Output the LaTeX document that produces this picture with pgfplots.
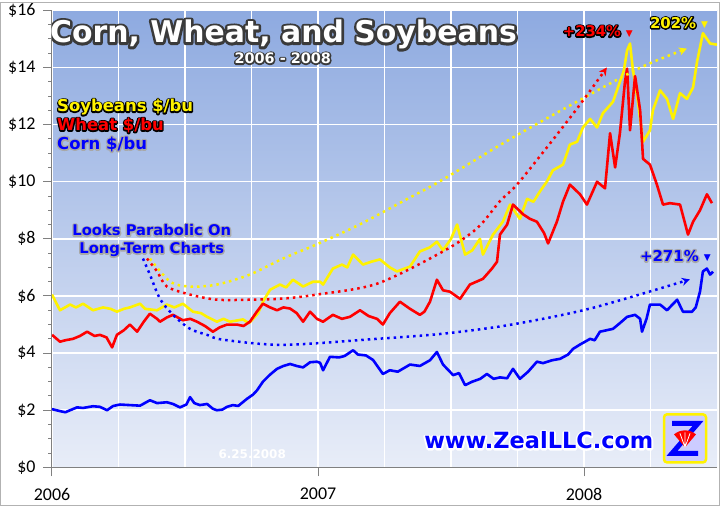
\documentclass[border=0pt]{standalone}
\usepackage{fontspec}
\setmainfont{DejaVu Sans}
\newfontfamily\tickfont{Carlito}
\usepackage{pgfplots}
\pgfplotsset{compat=1.18}
\usetikzlibrary{arrows.meta}
\definecolor{bgtop}{HTML}{8EAAE0}
\definecolor{bgbot}{HTML}{E8EDF8}
\definecolor{axgray}{HTML}{808080}
\definecolor{outl}{HTML}{3A3A3A}
\definecolor{glow}{HTML}{A8A8A8}
% outlined text: #1 stroke width (bp), #2 outline colour, #3 text
\newcommand{\outl}[3]{\leavevmode\rlap{\color{#2}\special{pdf:literal 2 Tr #1 w 1 j}#3\special{pdf:literal 0 Tr}}#3}
\newcommand{\tri}{{\fontsize{9}{9}\selectfont\raisebox{0.5bp}{▼}}}
\begin{document}
\begin{tikzpicture}
\begin{axis}[at={(0,0)}, anchor=south west, scale only axis, width=665bp, height=457bp,
 xmin=2006, xmax=2008.5, ymin=0, ymax=16,
 axis x line*=bottom, axis y line*=left, axis line style={axgray, line width=1bp},
 xtick={2006,2007,2008}, xticklabels={2006,2007,2008},
 minor xtick={2006.25,2006.5,2006.75,2007.25,2007.5,2007.75,2008.25},
 xmajorgrids, xminorgrids, ymajorgrids,
 ytick={0,2,...,16}, yticklabels={\$0,\$2,\$4,\$6,\$8,\$10,\$12,\$14,\$16},
 minor y tick num=3,
 grid style={white, line width=1.5bp},
 minor grid style={white, line width=1.5bp},
 tick align=outside, major tick length=9bp, minor tick length=4bp,
 tick style={axgray, line width=1bp},
 minor x tick style={draw=none},
 ticklabel style={font=\tickfont\fontsize{18}{18}\selectfont},
 /pgf/number format/assume math mode=true,
 yticklabel style={xshift=-4bp},
 xticklabel style={yshift=-8bp},
 axis background/.style={top color=bgtop, bottom color=bgbot},
]
% Soybeans
\addplot[yellow, line width=2.6bp, line join=round] coordinates {
(2006.000,6.05) (2006.030,5.50) (2006.068,5.70) (2006.090,5.60) (2006.117,5.73) (2006.154,5.50)
(2006.192,5.60) (2006.220,5.55) (2006.244,5.45) (2006.270,5.55) (2006.293,5.60) (2006.331,5.73)
(2006.350,5.55) (2006.395,5.50) (2006.432,5.70) (2006.460,5.60) (2006.492,5.73) (2006.530,5.45)
(2006.560,5.40) (2006.583,5.27) (2006.620,5.10) (2006.645,5.20) (2006.669,5.10) (2006.700,5.15)
(2006.718,5.18) (2006.740,5.05) (2006.756,5.20) (2006.775,5.40) (2006.793,5.80) (2006.820,6.22)
(2006.857,6.40) (2006.880,6.30) (2006.906,6.57) (2006.944,6.33) (2006.981,6.50) (2007.008,6.50)
(2007.019,6.40) (2007.056,6.96) (2007.090,7.10) (2007.110,7.00) (2007.132,7.45) (2007.169,7.10)
(2007.200,7.20) (2007.233,7.28) (2007.270,7.00) (2007.297,6.86) (2007.346,7.03) (2007.383,7.56)
(2007.420,7.70) (2007.447,7.90) (2007.470,7.60) (2007.500,8.00) (2007.523,8.50) (2007.553,7.45)
(2007.580,7.60) (2007.609,8.00) (2007.620,7.45) (2007.658,8.15) (2007.695,8.60) (2007.722,9.20)
(2007.759,8.70) (2007.786,9.40) (2007.810,9.30) (2007.835,9.67) (2007.860,10.00) (2007.883,10.40)
(2007.921,10.60) (2007.947,11.30) (2007.974,11.40) (2007.996,11.90) (2008.023,12.20) (2008.049,11.90)
(2008.071,12.40) (2008.109,12.80) (2008.135,13.50) (2008.150,13.90) (2008.162,14.60) (2008.173,14.84)
(2008.184,13.90) (2008.200,13.00) (2008.211,12.20) (2008.222,11.40) (2008.235,11.60) (2008.248,11.80)
(2008.259,12.50) (2008.286,13.20) (2008.312,12.90) (2008.335,12.20) (2008.361,13.10) (2008.387,12.90)
(2008.410,13.30) (2008.425,14.20) (2008.447,15.20) (2008.474,14.84) (2008.500,14.80)
};
% Wheat
\addplot[red, line width=2.6bp, line join=round] coordinates {
(2006.000,4.64) (2006.030,4.40) (2006.050,4.45) (2006.079,4.50) (2006.105,4.60) (2006.132,4.75)
(2006.160,4.60) (2006.180,4.64) (2006.205,4.55) (2006.226,4.20) (2006.244,4.64) (2006.270,4.80)
(2006.293,5.00) (2006.320,4.75) (2006.345,5.10) (2006.368,5.38) (2006.395,5.20) (2006.406,5.10)
(2006.432,5.25) (2006.455,5.34) (2006.492,5.15) (2006.520,5.20) (2006.545,5.10) (2006.575,4.95)
(2006.605,4.75) (2006.630,4.90) (2006.658,5.00) (2006.695,5.00) (2006.720,4.95) (2006.744,5.10)
(2006.770,5.45) (2006.793,5.73) (2006.820,5.60) (2006.846,5.50) (2006.870,5.60) (2006.895,5.56)
(2006.920,5.40) (2006.944,5.10) (2006.970,5.45) (2006.996,5.20) (2007.019,5.10) (2007.056,5.34)
(2007.090,5.20) (2007.120,5.27) (2007.158,5.50) (2007.190,5.30) (2007.222,5.20) (2007.244,5.00)
(2007.270,5.40) (2007.308,5.80) (2007.346,5.55) (2007.383,5.34) (2007.400,5.45) (2007.421,5.80)
(2007.447,6.57) (2007.470,6.20) (2007.496,6.15) (2007.534,5.90) (2007.571,6.40) (2007.620,6.60)
(2007.654,6.96) (2007.673,7.20) (2007.684,8.15) (2007.711,8.50) (2007.733,9.20) (2007.759,8.97)
(2007.771,8.86) (2007.797,8.70) (2007.823,8.60) (2007.850,8.20) (2007.865,7.84) (2007.898,8.60)
(2007.921,9.30) (2007.947,9.90) (2007.985,9.56) (2008.011,9.20) (2008.049,10.00) (2008.079,9.77)
(2008.098,11.70) (2008.117,10.50) (2008.135,11.70) (2008.154,13.50) (2008.162,13.96) (2008.173,11.80)
(2008.192,13.70) (2008.211,12.50) (2008.222,10.80) (2008.248,10.60) (2008.274,9.90) (2008.297,9.20)
(2008.323,9.25) (2008.361,9.20) (2008.391,8.15) (2008.410,8.60) (2008.436,9.00) (2008.462,9.56)
(2008.481,9.25)
};
% Corn
\addplot[blue, line width=2.6bp, line join=round] coordinates {
(2006.000,2.04) (2006.030,1.97) (2006.050,1.93) (2006.068,2.00) (2006.094,2.10) (2006.117,2.08)
(2006.154,2.14) (2006.180,2.12) (2006.207,2.00) (2006.230,2.15) (2006.256,2.20) (2006.293,2.18)
(2006.331,2.16) (2006.368,2.35) (2006.395,2.25) (2006.432,2.28) (2006.455,2.22) (2006.481,2.10)
(2006.505,2.20) (2006.519,2.46) (2006.535,2.25) (2006.556,2.18) (2006.583,2.22) (2006.605,2.05)
(2006.620,2.00) (2006.640,2.02) (2006.658,2.12) (2006.680,2.18) (2006.700,2.15) (2006.733,2.40)
(2006.756,2.55) (2006.771,2.70) (2006.793,3.00) (2006.820,3.25) (2006.846,3.45) (2006.870,3.55)
(2006.895,3.62) (2006.920,3.55) (2006.944,3.50) (2006.970,3.68) (2006.996,3.70) (2007.008,3.66)
(2007.019,3.40) (2007.045,3.87) (2007.080,3.85) (2007.100,3.90) (2007.132,4.10) (2007.150,3.95)
(2007.180,3.92) (2007.207,3.76) (2007.244,3.27) (2007.270,3.40) (2007.300,3.35) (2007.346,3.60)
(2007.383,3.55) (2007.421,3.75) (2007.447,4.04) (2007.470,3.60) (2007.508,3.23) (2007.530,3.30)
(2007.553,2.88) (2007.580,3.00) (2007.610,3.10) (2007.635,3.27) (2007.660,3.10) (2007.684,3.15)
(2007.711,3.12) (2007.733,3.45) (2007.759,3.10) (2007.790,3.35) (2007.823,3.70) (2007.846,3.65)
(2007.880,3.75) (2007.910,3.80) (2007.940,3.95) (2007.959,4.15) (2007.985,4.30) (2008.023,4.50)
(2008.040,4.45) (2008.060,4.75) (2008.109,4.85) (2008.135,5.05) (2008.162,5.27) (2008.192,5.34)
(2008.211,5.20) (2008.218,4.75) (2008.235,5.20) (2008.248,5.70) (2008.286,5.70) (2008.312,5.50)
(2008.350,5.87) (2008.372,5.45) (2008.406,5.45) (2008.420,5.60) (2008.436,6.15) (2008.447,6.86)
(2008.462,6.96) (2008.474,6.75) (2008.485,6.85)
};
% dotted parabola annotations
\addplot[yellow, line width=2.5bp, dash pattern=on 2.5bp off 4bp, smooth, -{Stealth[length=8bp,width=8bp]}] coordinates {
(2006.368,7.31) (2006.444,6.50) (2006.519,6.33) (2006.620,6.40) (2006.744,6.75) (2006.868,7.31)
(2006.996,7.81) (2007.158,8.51) (2007.320,9.32) (2007.459,10.02) (2007.711,11.43) (2007.959,12.73)
(2008.211,13.99) (2008.387,14.66)
};
\addplot[red, line width=2.5bp, dash pattern=on 2.5bp off 4bp, smooth, -{Stealth[length=8bp,width=8bp]}] coordinates {
(2006.357,7.31) (2006.395,6.86) (2006.432,6.33) (2006.519,6.05) (2006.620,5.87) (2006.744,5.87)
(2006.868,5.91) (2006.996,6.05) (2007.222,6.43) (2007.470,7.56) (2007.598,8.37) (2007.684,9.32)
(2007.759,10.02) (2007.959,12.38) (2008.086,14.00)
};
\addplot[blue, line width=2.5bp, dash pattern=on 2.5bp off 4bp, smooth, -{Stealth[length=8bp,width=8bp]}] coordinates {
(2006.342,7.31) (2006.368,6.75) (2006.406,5.90) (2006.455,5.34) (2006.519,4.85) (2006.583,4.64)
(2006.643,4.47) (2006.868,4.29) (2007.222,4.50) (2007.470,4.68) (2007.722,4.99) (2008.023,5.56)
(2008.398,6.58)
};
% texts
\node[anchor=west, text=white, font=\bfseries\fontsize{30}{30}\selectfont, inner sep=0pt] at (rel axis cs:-0.003,0.947) {\outl{5}{outl}{Corn, Wheat, and Soybeans}};
\node[text=white, font=\bfseries\fontsize{14.5}{14.5}\selectfont, inner sep=0pt] at (rel axis cs:0.347,0.895) {\outl{3}{outl}{2006 - 2008}};
\node[anchor=west, text=yellow, font=\bfseries\fontsize{16.5}{16.5}\selectfont, inner sep=0pt] at (rel axis cs:0.0075,0.788) {\outl{2.6}{black}{Soybeans \$/bu}};
\node[anchor=west, text=red, font=\bfseries\fontsize{16.5}{16.5}\selectfont, inner sep=0pt] at (rel axis cs:0.0075,0.748) {\outl{2.6}{black}{Wheat \$/bu}};
\node[anchor=west, text=blue, font=\bfseries\fontsize{16.5}{16.5}\selectfont, inner sep=0pt] at (rel axis cs:0.0075,0.707) {\outl{3}{glow}{Corn \$/bu}};
\node[text=blue, font=\bfseries\fontsize{14.8}{14.8}\selectfont, inner sep=0pt] at (rel axis cs:0.150,0.519) {\outl{3}{glow}{Looks Parabolic On}};
\node[text=blue, font=\bfseries\fontsize{14.8}{14.8}\selectfont, inner sep=0pt] at (rel axis cs:0.150,0.477) {\outl{3}{glow}{Long-Term Charts}};
\node[anchor=west, text=red, font=\bfseries\fontsize{14.8}{14.8}\selectfont, inner sep=0pt] at (rel axis cs:0.768,0.954) {\outl{2.6}{black}{+234\%}\hspace{5bp}\tri};
\node[anchor=west, text=yellow, font=\bfseries\fontsize{15}{15}\selectfont, inner sep=0pt] at (rel axis cs:0.899,0.972) {\outl{2.6}{black}{202\%}\hspace{5bp}\tri};
\node[anchor=west, text=blue, font=\bfseries\fontsize{15}{15}\selectfont, inner sep=0pt] at (rel axis cs:0.884,0.462) {\outl{3}{glow}{+271\%}\hspace{5bp}\tri};
\node[text=white, font=\bfseries\fontsize{12}{12}\selectfont, inner sep=0pt] at (rel axis cs:0.301,0.028) {6.25.2008};
\node[text=blue, font=\bfseries\fontsize{22.5}{22.5}\selectfont, inner sep=0pt] at (rel axis cs:0.732,0.059) {\outl{3.5}{white}{www.ZealLLC.com}};
\end{axis}
% logo (decoration, drawn in picture units)
\begin{scope}[shift={(633bp,29bp)}]
\fill[blue!20, draw=yellow, line width=2.5bp, rounded corners=3bp] (-21bp,-24bp) rectangle (21bp,24bp);
\draw[blue, line width=5bp, line join=miter] (-13bp,15bp) -- (13bp,15bp) -- (-13bp,-15bp) -- (13bp,-15bp);
\fill[red] (0bp,-9bp) -- (-11bp,4bp) arc[start angle=130, end angle=50, radius=17.1bp] -- cycle;
\draw[white, line width=0.8bp] (0bp,-9bp) -- (-5bp,5bp) (0bp,-9bp) -- (0bp,6bp) (0bp,-9bp) -- (5bp,5bp);
\end{scope}
\draw[gray!60, line width=1bp] (-51.5bp,-38.5bp) rectangle (667.5bp,464.5bp);
\end{tikzpicture}
\end{document}
